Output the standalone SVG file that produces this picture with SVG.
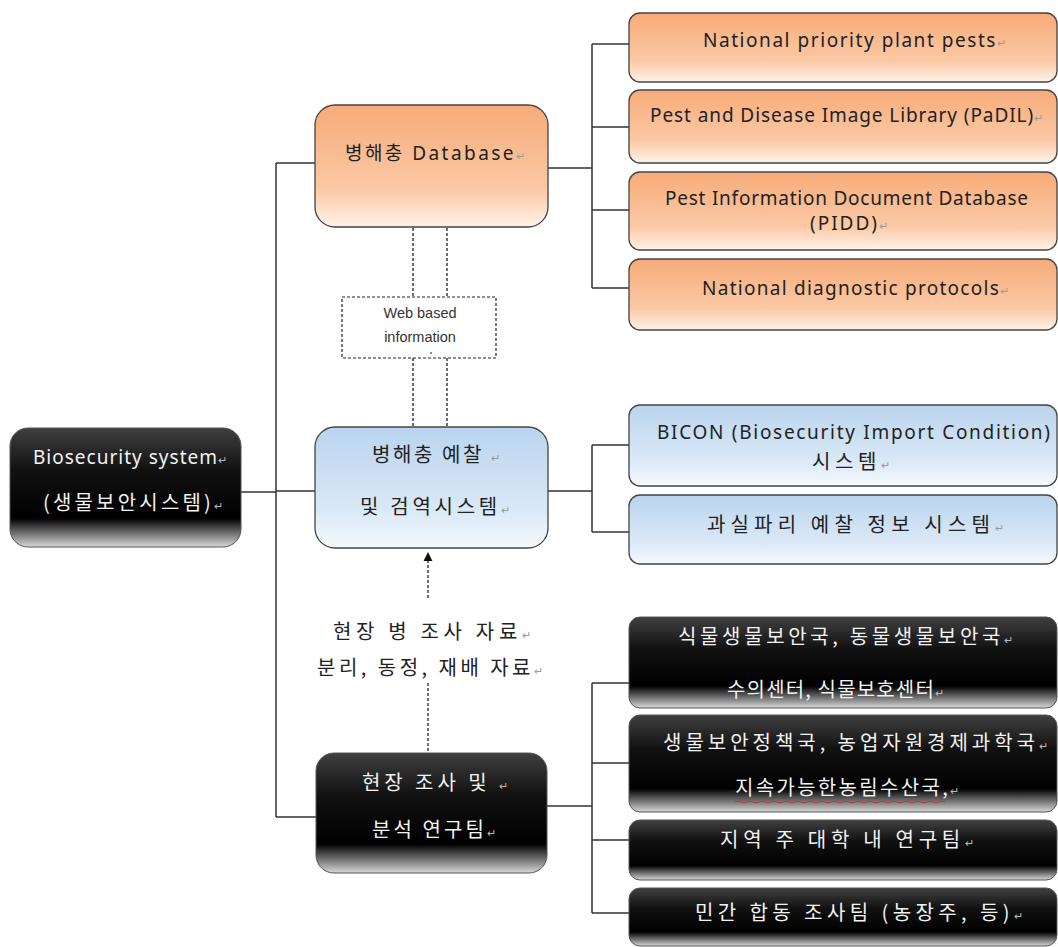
<svg xmlns="http://www.w3.org/2000/svg" width="1058" height="947" viewBox="0 0 1058 947">
<style>
text{font-family:"Noto Sans","Noto Sans CJK KR",sans-serif;font-size:19px;fill:#222}
.k{font-family:"Noto Sans CJK KR","Noto Sans",sans-serif;font-size:20px}
.w{fill:#f2f2f2}
.pm{font-size:11px;fill:#999}
.w .pm{fill:#bbb}
.web{font-family:"Liberation Sans",Arial,sans-serif;font-size:14.5px;fill:#333}
.ln{stroke:#333;stroke-width:1.5;fill:none}
.ds{stroke:#222;stroke-width:1.3;fill:none;stroke-dasharray:3,2}
.bk{fill:url(#gBlack);stroke:#555;stroke-width:1}
.or{fill:url(#gOrange);stroke:#444;stroke-width:1.3}
.bl{fill:url(#gBlue);stroke:#444;stroke-width:1.3}
</style>
<defs>
<linearGradient id="gBlack" x1="0" y1="0" x2="0" y2="1">
<stop offset="0" stop-color="#404040"/>
<stop offset="0.35" stop-color="#111"/>
<stop offset="0.76" stop-color="#000"/>
<stop offset="1" stop-color="#d8d8d8"/>
</linearGradient>
<linearGradient id="gOrange" x1="0" y1="0" x2="0" y2="1">
<stop offset="0" stop-color="#f7ab78"/>
<stop offset="0.7" stop-color="#fbc9a6"/>
<stop offset="1" stop-color="#fff3ea"/>
</linearGradient>
<linearGradient id="gBlue" x1="0" y1="0" x2="0" y2="1">
<stop offset="0" stop-color="#b9d4ee"/>
<stop offset="0.7" stop-color="#dbe9f7"/>
<stop offset="1" stop-color="#f5f9fd"/>
</linearGradient>
<marker id="arr" viewBox="0 0 10 10" refX="9" refY="5" markerWidth="7" markerHeight="7" orient="auto">
<path d="M0,0 L10,5 L0,10 z" fill="#111"/>
</marker>
</defs>
<rect width="1058" height="947" fill="#fff"/>

<g id="connectors">
<path class="ln" d="M240,492 H276 M276,163 V817 M276,163 H316 M276,491 H316 M276,817 H316"/>
<path class="ln" d="M548,168 H592 M592,44 V288 M592,44 H629 M592,127 H629 M592,210 H629 M592,288 H629"/>
<path class="ln" d="M548,491 H592 M592,445 V532 M592,445 H629 M592,532 H629"/>
<path class="ln" d="M547,806 H592 M592,683 V913 M592,683 H629 M592,763 H629 M592,840 H629 M592,913 H629"/>
<path class="ds" d="M413,228 V297 M447,228 V297 M413,358 V427 M447,358 V427"/>
<path class="ds" d="M428,598 V553" marker-end="url(#arr)"/>
<path class="ds" d="M428,683 V752"/>
</g>

<g id="root">
<rect class="bk" x="10" y="428" width="231" height="119" rx="18"/>
<text class="w" x="33" y="464" textLength="194">Biosecurity system<tspan class="pm">↵</tspan></text>
<text class="w k" x="43" y="510" textLength="180">(생물보안시스템)<tspan class="pm">↵</tspan></text>
</g>

<g id="db">
<rect class="or" x="315" y="105" width="233" height="122" rx="20"/>
<text x="345" y="160" textLength="180">병해충 Database<tspan class="pm">↵</tspan></text>
</g>

<g id="web">
<rect x="342" y="297" width="154" height="61" fill="#fff" stroke="#222" stroke-width="1.2" stroke-dasharray="3,2"/>
<text class="web" x="420" y="318" text-anchor="middle">Web based</text>
<text class="web" x="420" y="342" text-anchor="middle">information</text>
<circle cx="431" cy="353" r="0.9" fill="#555"/>
</g>

<g id="forecast">
<rect class="bl" x="315" y="427" width="233" height="121" rx="20"/>
<text class="k" x="372" y="462" textLength="128">병해충 예찰 <tspan class="pm">↵</tspan></text>
<text class="k" x="360" y="514" textLength="150">및 검역시스템<tspan class="pm">↵</tspan></text>
</g>

<g id="fieldteam">
<rect class="bk" x="316" y="753" width="231" height="120" rx="18"/>
<text class="w k" x="362" y="790" textLength="146">현장 조사 및 <tspan class="pm">↵</tspan></text>
<text class="w k" x="372" y="837" textLength="124">분석 연구팀<tspan class="pm">↵</tspan></text>
</g>

<g id="fieldlabel">
<text class="k" x="333" y="639" textLength="198">현장 병 조사 자료<tspan class="pm">↵</tspan></text>
<text class="k" x="317" y="675" textLength="226">분리, 동정, 재배 자료<tspan class="pm">↵</tspan></text>
</g>

<g id="o1">
<rect class="or" x="629" y="13" width="428" height="69" rx="11"/>
<text x="703" y="47" textLength="303" fill="#8a5a6e">National priority plant pests<tspan class="pm">↵</tspan></text>
</g>
<g id="o2">
<rect class="or" x="629" y="90" width="428" height="73" rx="11"/>
<text x="650" y="122" textLength="393">Pest and Disease Image Library (PaDIL)<tspan class="pm">↵</tspan></text>
</g>
<g id="o3">
<rect class="or" x="629" y="172" width="428" height="78" rx="11"/>
<text x="665" y="205" textLength="363">Pest Information Document Database</text>
<text x="810" y="230" textLength="78">(PIDD)<tspan class="pm">↵</tspan></text>
</g>
<g id="o4">
<rect class="or" x="629" y="259" width="428" height="71" rx="11"/>
<text x="702" y="295" textLength="307">National diagnostic protocols<tspan class="pm">↵</tspan></text>
</g>

<g id="b1">
<rect class="bl" x="629" y="405" width="428" height="81" rx="11"/>
<text x="657" y="439" textLength="393">BICON (Biosecurity Import Condition)</text>
<text class="k" x="812" y="469" textLength="78">시스템<tspan class="pm">↵</tspan></text>
</g>
<g id="b2">
<rect class="bl" x="629" y="495" width="428" height="69" rx="11"/>
<text class="k" x="707" y="532" textLength="297">과실파리 예찰 정보 시스템<tspan class="pm">↵</tspan></text>
</g>

<g id="k1">
<rect class="bk" x="629" y="617" width="428" height="91" rx="11"/>
<text class="w k" x="678" y="644" textLength="335">식물생물보안국, 동물생물보안국<tspan class="pm">↵</tspan></text>
<text class="w k" x="727" y="697" textLength="217">수의센터, 식물보호센터<tspan class="pm">↵</tspan></text>
</g>
<g id="k2">
<rect class="bk" x="629" y="715" width="428" height="97" rx="11"/>
<text class="w k" x="663" y="750" textLength="385">생물보안정책국, 농업자원경제과학국<tspan class="pm">↵</tspan></text>
<text class="w k" x="735" y="795" textLength="224">지속가능한농림수산국,<tspan class="pm">↵</tspan></text>
<path d="M735,802 q3,-2 6,0 t6,0 t6,0 t6,0 t6,0 t6,0 t6,0 t6,0 t6,0 t6,0 t6,0 t6,0 t6,0 t6,0 t6,0 t6,0 t6,0 t6,0 t6,0 t6,0 t6,0 t6,0 t6,0 t6,0 t6,0 t6,0 t6,0 t6,0 t6,0 t6,0 t6,0 t6,0 t6,0 t6,0 t6,0" fill="none" stroke="#c0304a" stroke-width="1"/>
</g>
<g id="k3">
<rect class="bk" x="629" y="820" width="428" height="60" rx="11"/>
<text class="w k" x="720" y="847" textLength="254">지역 주 대학 내 연구팀<tspan class="pm">↵</tspan></text>
</g>
<g id="k4">
<rect class="bk" x="629" y="888" width="428" height="58" rx="11"/>
<text class="w k" x="695" y="920" textLength="328">민간 합동 조사팀 (농장주, 등)<tspan class="pm">↵</tspan></text>
</g>
</svg>
